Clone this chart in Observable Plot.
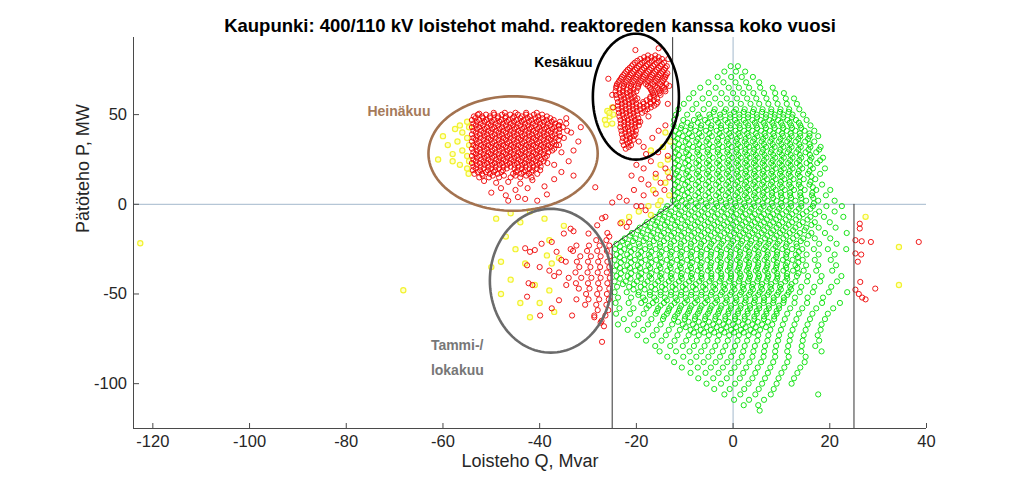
<!DOCTYPE html>
<html><head><meta charset="utf-8">
<script src="https://cdn.jsdelivr.net/npm/d3@7"></script>
<script src="https://cdn.jsdelivr.net/npm/@observablehq/plot@0.6"></script>
<style>body{margin:0;background:#fff;} #chart svg{overflow:visible;}</style>
</head><body><div id="chart"></div>
<script>
const titleText = "Kaupunki: 400/110 kV loistehot mahd. reaktoreden kanssa koko vuosi";
const xLabel = "Loisteho Q, Mvar";
const yLabel = "Pätöteho P, MW";
const xTicks = [-120, -100, -80, -60, -40, -20, 0, 20, 40];
const yTicks = [-100, -50, 0, 50];
const xDomain = [-124, 40];
const yDomain = [-125, 93];

// Green points (rows of [P, [Q values]])
const greenRows = [
[77,[-0.5,1]],
[74,[-1.8,0.6,2.5]],
[71,[-3.2,-0.4,1.8,4.1]],
[68,[-5.1,-2,0.5,2.7,5.4]],
[65,[-6.8,-3.6,-0.9,1.2,3.3,5.6,8.2]],
[62,[-8.2,-5,-2.4,0,2.1,4.2,6.4,8.7,10.5]],
[59,[-9.1,-6.3,-3.7,-1.3,0.8,2.9,4.8,6.9,8.8,10.9,12.6]],
[56,[-10.2,-7.6,-5,-2.6,-0.4,1.6,3.6,5.4,7.3,9.2,11.1,13.2]],
[53,[-11.3,-8.4,-6.1,-3.8,-1.5,0.6,2.4,4.3,6.1,7.9,9.8,11.6,13.7]],
[50,[-11.8,-9.5,-7.2,-4.9,-2.7,-0.6,1.3,3.1,4.9,6.8,8.6,10.4,12.3,14.5]],
[47,[-12.2,-10.3,-8.1,-5.8,-3.6,-1.6,0.4,2.2,4,5.7,7.5,9.3,11.2,13,15.2]],
[44,[-12.3,-10.6,-8.7,-6.6,-4.5,-2.5,-0.5,1.3,3.1,4.8,6.6,8.4,10.2,12,13.9,16]],
[41,[-11.9,-9.9,-7.8,-5.6,-3.4,-1.4,0.5,2.3,4,5.8,7.6,9.4,11.1,12.9,14.8,16.8]],
[38,[-12.3,-10.4,-8.5,-6.5,-4.4,-2.3,-0.4,1.4,3.2,5,6.7,8.5,10.3,12.1,13.9,15.8,17.6]],
[35,[-12,-9.8,-7.6,-5.5,-3.3,-1.3,0.6,2.4,4.1,5.9,7.7,9.5,11.2,13,14.9,16.8]],
[32,[-12.3,-10.4,-8.3,-6.3,-4.2,-2.2,-0.3,1.5,3.3,5,6.8,8.6,10.4,12.1,14,16,18.1]],
[29,[-11.9,-9.7,-7.4,-5.3,-3.2,-1.2,0.7,2.5,4.2,6,7.8,9.6,11.3,13.1,15,17.2]],
[26,[-12.3,-10.3,-8.4,-6.3,-4.2,-2.1,-0.2,1.6,3.4,5.1,6.9,8.7,10.5,12.3,14.1,16.2,18.6]],
[23,[-12,-9.9,-7.6,-5.4,-3.3,-1.2,0.7,2.5,4.3,6.1,7.9,9.6,11.4,13.2,15.2,17.4]],
[20,[-12.3,-10.4,-8.4,-6.3,-4.3,-2.2,-0.3,1.6,3.4,5.2,7,8.8,10.5,12.3,14.3,16.5,19]],
[17,[-11.8,-9.7,-7.5,-5.4,-3.3,-1.3,0.7,2.5,4.3,6.1,7.9,9.7,11.5,13.4,15.5,18]],
[14,[-12.3,-10.4,-8.5,-6.4,-4.3,-2.3,-0.3,1.6,3.4,5.2,7,8.8,10.6,12.5,14.6,17]],
[11,[-12,-9.9,-7.7,-5.6,-3.5,-1.4,0.5,2.4,4.2,6,7.8,9.7,11.6,13.6,15.8,18.4]],
[8,[-12.3,-10.5,-8.6,-6.5,-4.4,-2.3,-0.4,1.5,3.3,5.2,7,8.8,10.7,12.6,14.8,17.2,20.1]],
[5,[-12,-10,-7.8,-5.7,-3.5,-1.5,0.5,2.4,4.3,6.1,8,9.9,11.8,13.9,16.3,19.2]],
[2,[-12.4,-10.6,-8.7,-6.6,-4.5,-2.5,-0.5,1.4,3.3,5.2,7.1,9,10.9,12.9,15.1,17.6,21]],
[-1,[-13.6,-11.4,-9.4,-7.3,-5.3,-3.3,-1.3,0.6,2.5,4.4,6.3,8.2,10.1,12,14.1,16.5,19.3,22.5]],
[-4,[-14.9,-12.8,-10.7,-8.6,-6.5,-4.4,-2.4,-0.4,1.5,3.4,5.3,7.2,9.1,11,13,15.2,17.8,21]],
[-7,[-16.2,-14.2,-12.1,-10,-7.9,-5.9,-3.8,-1.8,0.1,2,3.9,5.8,7.7,9.6,11.6,13.7,16,18.8,22.8]],
[-10,[-17.8,-15.7,-13.6,-11.5,-9.4,-7.3,-5.2,-3.2,-1.2,0.7,2.6,4.5,6.4,8.3,10.2,12.2,14.4,16.9,20]],
[-13,[-19.3,-17.1,-15,-12.9,-10.8,-8.7,-6.6,-4.5,-2.5,-0.5,1.4,3.3,5.2,7.1,9,10.9,12.9,15.1,17.7,21.2]],
[-16,[-20.9,-18.7,-16.5,-14.3,-12.2,-10.1,-8,-5.9,-3.8,-1.8,0.2,2.1,4,5.9,7.8,9.7,11.7,13.8,16.2,19,23.5]],
[-19,[-22.4,-20.2,-18,-15.8,-13.6,-11.5,-9.4,-7.3,-5.2,-3.1,-1.1,0.9,2.8,4.7,6.6,8.5,10.4,12.4,14.5,16.9,20.1]],
[-22,[-24.1,-21.8,-19.5,-17.3,-15.1,-12.9,-10.8,-8.7,-6.6,-4.5,-2.4,-0.4,1.6,3.5,5.4,7.3,9.2,11.1,13.1,15.3,17.8,21.4]],
[-25,[-24.4,-22.5,-20.4,-18.2,-16,-13.8,-11.7,-9.6,-7.5,-5.4,-3.3,-1.3,0.7,2.6,4.5,6.4,8.3,10.2,12.2,14.3,16.7,19.6,23.4]],
[-28,[-24.1,-21.9,-19.6,-17.4,-15.2,-13,-10.9,-8.8,-6.7,-4.6,-2.5,-0.5,1.5,3.4,5.3,7.2,9.1,11,13,15.2,17.7,21]],
[-31,[-24.5,-22.5,-20.3,-18.1,-15.9,-13.7,-11.6,-9.5,-7.4,-5.3,-3.2,-1.2,0.8,2.7,4.6,6.5,8.4,10.3,12.3,14.4,16.9,20.2]],
[-34,[-24.1,-21.9,-19.7,-17.5,-15.3,-13.1,-11,-8.9,-6.8,-4.7,-2.6,-0.6,1.4,3.3,5.2,7.1,9,10.9,12.9,15.1,17.6,21.3]],
[-37,[-24.5,-22.4,-20.2,-18,-15.8,-13.6,-11.5,-9.4,-7.3,-5.2,-3.1,-1.1,0.9,2.8,4.7,6.6,8.5,10.4,12.4,14.6,17.2,20.5]],
[-40,[-24.1,-21.8,-19.5,-17.3,-15.1,-12.9,-10.8,-8.7,-6.6,-4.5,-2.4,-0.4,1.6,3.5,5.4,7.3,9.2,11.1,13.2,15.5,18.3,22.4]],
[-43,[-24.5,-22.2,-19.9,-17.7,-15.5,-13.3,-11.2,-9.1,-7,-4.9,-2.8,-0.8,1.2,3.1,5,6.9,8.8,10.8,12.9,15.3,18,21.5]],
[-46,[-24,-21.5,-19.1,-16.9,-14.7,-12.5,-10.4,-8.3,-6.2,-4.1,-2,0,2,3.9,5.8,7.7,9.7,11.8,14.1,16.8,20.3]],
[-49,[-24.5,-22,-19.5,-17.2,-15,-12.8,-10.7,-8.6,-6.5,-4.4,-2.3,-0.3,1.7,3.6,5.5,7.4,9.4,11.5,13.8,16.5,19.8,23.6]],
[-52,[-23.8,-21.1,-18.6,-16.3,-14.1,-11.9,-9.8,-7.7,-5.6,-3.5,-1.4,0.6,2.6,4.5,6.4,8.4,10.5,12.8,15.4,18.6]],
[-55,[-24.3,-21.6,-19,-16.6,-14.3,-12.1,-10,-7.9,-5.8,-3.7,-1.6,0.4,2.4,4.3,6.3,8.3,10.4,12.7,15.3,18.4,22.1]],
[-58,[-23.5,-20.6,-17.9,-15.5,-13.2,-11,-8.9,-6.8,-4.7,-2.6,-0.5,1.5,3.5,5.4,7.4,9.5,11.8,14.3,17.2,20.7]],
[-61,[-24.2,-21.3,-18.5,-16,-13.7,-11.5,-9.4,-7.3,-5.2,-3.1,-1,1,3,4.9,6.9,9,11.2,13.6,16.4,19.6]],
[-64,[-22.6,-19.6,-16.9,-14.5,-12.2,-10,-7.9,-5.8,-3.7,-1.6,0.4,2.4,4.4,6.4,8.5,10.7,13.1,15.9,19]],
[-67,[-23.8,-20.5,-17.6,-15,-12.6,-10.4,-8.3,-6.2,-4.1,-2,0,2,4,6,8.1,10.3,12.7,15.4,18.3]],
[-70,[-21.8,-18.6,-15.8,-13.3,-11,-8.8,-6.7,-4.6,-2.5,-0.4,1.6,3.6,5.6,7.7,9.9,12.3,15,18.1]],
[-73,[-19.8,-16.6,-13.9,-11.5,-9.2,-7.1,-5,-2.9,-0.8,1.2,3.2,5.2,7.3,9.5,11.9,14.6,17.5]],
[-76,[-18,-14.8,-12.1,-9.7,-7.5,-5.3,-3.2,-1.1,0.9,2.9,5,7.1,9.3,11.7,14.4,17.8]],
[-79,[-16.1,-13,-10.4,-8.1,-5.9,-3.7,-1.6,0.4,2.4,4.5,6.6,8.9,11.4,14.2,17]],
[-82,[-15.2,-11.8,-9,-6.6,-4.3,-2.1,0,2.1,4.2,6.4,8.7,11.2,14.1,18.3]],
[-85,[-13.6,-10.3,-7.6,-5.1,-2.7,-0.4,1.8,4,6.3,8.7,11.5,15]],
[-88,[-12.2,-8.8,-6.1,-3.6,-1.2,1.1,3.4,5.8,8.3,11.2,14.8]],
[-91,[-10.6,-7.3,-4.6,-2.1,0.3,2.7,5.1,7.7,10.6,13.9]],
[-94,[-8.8,-5.7,-3,-0.4,2.1,4.6,7.2,10,13.3]],
[-97,[-7.2,-4.1,-1.3,1.4,4,6.6,9.4,12.6]],
[-100,[-5.5,-2.5,0.4,3.2,6,9,12.1]],
[-103,[-3.9,-0.7,2.3,5.3,8.4]],
[-106,[-1.8,1.5,4.6,7.8,17.6]],
[-109,[0.2,3.3,6.4]],
[-112,[2.2,5.2]],
[-115,[5.5]],
// denser core
[51.5,[-4,-1.8,0.2,2.2,4.1,6,7.9,9.7,11.5]],
[48.5,[-6.9,-4.7,-2.6,-0.6,1.3,3.1,5,6.8,8.6,10.4,12.2]],
[45.5,[-9.4,-7.3,-5.2,-3.1,-1.1,0.8,2.6,4.5,6.3,8.1,9.9,11.7,13.6]],
[42.5,[-10.8,-8.8,-6.7,-4.6,-2.5,-0.5,1.4,3.2,5,6.8,8.6,10.4,12.2,14.1]],
[39.5,[-11.2,-9.1,-7,-4.9,-2.8,-0.8,1.1,2.9,4.7,6.5,8.3,10.1,11.9,13.8,15.8]],
[36.5,[-11.5,-9.4,-7.3,-5.2,-3.1,-1.1,0.8,2.6,4.4,6.2,8,9.8,11.6,13.5,15.5]],
[33.5,[-11.2,-9.1,-7,-4.9,-2.9,-0.9,1,2.8,4.6,6.4,8.2,10,11.8,13.7,15.8]],
[30.5,[-11.5,-9.4,-7.3,-5.2,-3.1,-1.1,0.8,2.6,4.4,6.2,8,9.8,11.6,13.5,15.6,17.8]],
[27.5,[-11.2,-9.1,-7,-4.9,-2.8,-0.8,1.1,2.9,4.7,6.5,8.3,10.1,11.9,13.8,15.9]],
[24.5,[-11.5,-9.3,-7.1,-5,-2.9,-0.9,1,2.8,4.6,6.4,8.2,10,11.8,13.7,15.9,18]],
[21.5,[-11.2,-9.1,-7,-4.9,-2.8,-0.8,1.1,2.9,4.7,6.5,8.3,10.1,11.9,13.8,16]],
[18.5,[-11.5,-9.4,-7.2,-5.1,-3,-1,0.9,2.7,4.5,6.3,8.1,9.9,11.7,13.6,15.8]],
[15.5,[-11.2,-9.1,-7,-4.9,-2.8,-0.8,1.1,2.9,4.7,6.5,8.3,10.1,11.9,13.8,16.2]],
[12.5,[-11.5,-9.4,-7.2,-5.1,-3,-1,0.9,2.7,4.5,6.3,8.1,9.9,11.7,13.7,16]],
[9.5,[-11.2,-9.1,-7,-4.9,-2.8,-0.8,1.1,2.9,4.7,6.5,8.3,10.1,12,14,16.5]],
[6.5,[-11.5,-9.4,-7.2,-5.1,-3,-1,0.9,2.7,4.5,6.3,8.1,9.9,11.8,13.9,16.4]],
[3.5,[-11.2,-9.1,-7,-4.9,-2.8,-0.8,1.1,2.9,4.7,6.5,8.3,10.1,12,14.1,16.6]],
[0.5,[-11.8,-9.8,-7.7,-5.6,-3.5,-1.5,0.4,2.3,4.2,6.1,8,9.9,11.9,14.1,16.7]],
[-2.5,[-13.9,-11.9,-9.9,-7.9,-5.9,-3.9,-1.9,0,1.9,3.8,5.7,7.6,9.5,11.5,13.6,16]],
[-5.5,[-15.2,-13.2,-11.2,-9.2,-7.2,-5.2,-3.2,-1.2,0.7,2.6,4.5,6.4,8.3,10.2,12.2,14.4,17]],
[-8.5,[-16.6,-14.6,-12.6,-10.6,-8.6,-6.6,-4.6,-2.6,-0.6,1.3,3.2,5.1,7,8.9,10.9,13,15.4]],
[-11.5,[-18.2,-16.1,-14.1,-12,-9.9,-7.9,-5.9,-3.9,-1.9,0,1.9,3.8,5.7,7.6,9.5,11.5,13.7,16.2]],
[-14.5,[-19.7,-17.6,-15.5,-13.4,-11.3,-9.2,-7.2,-5.2,-3.2,-1.2,0.7,2.6,4.5,6.4,8.3,10.3,12.4,14.8]],
[-17.5,[-21.3,-19.1,-17,-14.9,-12.8,-10.7,-8.6,-6.6,-4.6,-2.6,-0.6,1.4,3.3,5.2,7.1,9,11,13.2,15.6]],
[-20.5,[-22.9,-20.7,-18.5,-16.4,-14.3,-12.2,-10.1,-8,-6,-4,-2,0,1.9,3.8,5.7,7.6,9.6,11.7,14]],
[-23.5,[-23.4,-21.4,-19.3,-17.2,-15.1,-13,-10.9,-8.8,-6.8,-4.8,-2.8,-0.8,1.1,3,4.9,6.8,8.8,10.9,13.2]],
[-26.5,[-23.2,-21.1,-19,-16.9,-14.8,-12.7,-10.6,-8.5,-6.5,-4.5,-2.5,-0.5,1.4,3.3,5.2,7.1,9.1,11.2,13.6]],
[-29.5,[-23.4,-21.3,-19.2,-17.1,-15,-12.9,-10.8,-8.7,-6.7,-4.7,-2.7,-0.7,1.2,3.1,5,6.9,8.9,11,13.4]],
[-32.5,[-23.2,-21.1,-19,-16.9,-14.8,-12.7,-10.6,-8.5,-6.5,-4.5,-2.5,-0.5,1.4,3.3,5.2,7.1,9.1,11.2,13.5]],
[-35.5,[-23.4,-21.3,-19.2,-17.1,-15,-12.9,-10.8,-8.7,-6.7,-4.7,-2.7,-0.7,1.2,3.1,5,6.9,8.9,11,13.3]],
[-38.5,[-23.2,-21.1,-19,-16.9,-14.8,-12.7,-10.6,-8.5,-6.5,-4.5,-2.5,-0.5,1.4,3.3,5.2,7.1,9.1,11.2,13.5]],
[-41.5,[-23.4,-21.2,-19,-16.9,-14.8,-12.7,-10.6,-8.5,-6.5,-4.5,-2.5,-0.5,1.4,3.3,5.2,7.1,9.1,11.2]],
[-44.5,[-22.8,-20.5,-18.3,-16.1,-14,-11.9,-9.8,-7.7,-5.7,-3.7,-1.7,0.3,2.2,4.1,6,7.9,9.9,12.1]],
[-47.5,[-20.6,-18.3,-16.1,-14,-11.9,-9.8,-7.7,-5.7,-3.7,-1.7,0.3,2.2,4.1,6,7.9,9.9,12]],
[-50.5,[-19.6,-17.2,-15,-12.9,-10.8,-8.7,-6.6,-4.6,-2.6,-0.6,1.4,3.3,5.2,7.1,9.1,11.2]],
[-53.5,[-18.2,-15.9,-13.7,-11.6,-9.5,-7.4,-5.3,-3.3,-1.3,0.7,2.6,4.5,6.4,8.4,10.5]],
[-56.5,[-17.4,-15,-12.8,-10.7,-8.6,-6.5,-4.4,-2.4,-0.4,1.6,3.5,5.4,7.4,9.5]],
[-59.5,[-15.7,-13.4,-11.2,-9.1,-7,-4.9,-2.9,-0.9,1.1,3,4.9,6.9,9]],
[-62.5,[-14.3,-12,-9.9,-7.8,-5.7,-3.6,-1.6,0.4,2.4,4.4,6.4,8.5]],
[-65.5,[-11.4,-9.2,-7.1,-5,-2.9,-0.9,1.1,3.1,5.1,7.2]],
[-68.5,[-9.8,-7.6,-5.5,-3.4,-1.4,0.6,2.6,4.7,6.8]],
[-71.5,[-8.1,-6,-3.9,-1.8,0.2,2.2,4.3]]
];

// Red: July (Heinäkuu) cluster rows
const julyRows = [
[51,[-49.5,-47.2,-45,-42.8,-40.6]],
[50,[-52.8,-51.1,-49.4,-47.8,-46.1,-44.5,-42.8,-41.2,-39.5]],
[49,[-53.6,-51.9,-50.3,-48.6,-47,-45.3,-43.7,-42,-40.3,-38.5]],
[48,[-53.3,-51.7,-50.2,-48.7,-47.1,-45.6,-44,-42.5,-40.9,-39.4,-37.8]],
[47,[-54,-52.5,-51,-49.4,-47.9,-46.4,-44.8,-43.3,-41.7,-40.2,-38.6,-37.1]],
[46,[-53,-51.4,-49.9,-48.3,-46.8,-45.3,-43.7,-42.2,-40.6,-39.1,-37.5,-35.8]],
[45,[-53.7,-52.2,-50.6,-49.1,-47.6,-46,-44.5,-43,-41.4,-39.9,-38.3,-36.8,-34.5]],
[44,[-53.2,-51.7,-50.1,-48.6,-47,-45.5,-44,-42.4,-40.9,-39.3,-37.8,-36.1]],
[43,[-54,-52.5,-50.9,-49.4,-47.8,-46.3,-44.8,-43.2,-41.7,-40.1,-38.6,-37,-35.2]],
[42,[-53,-51.4,-49.8,-48.3,-46.7,-45.2,-43.6,-42.1,-40.5,-39,-37.4,-35.9]],
[41,[-53.7,-52.1,-50.6,-49,-47.5,-46,-44.4,-42.9,-41.3,-39.8,-38.2,-36.7,-34.3]],
[40,[-53.2,-51.6,-50.1,-48.5,-47,-45.4,-43.9,-42.3,-40.8,-39.2,-37.7,-36]],
[39,[-54,-52.4,-50.9,-49.3,-47.8,-46.2,-44.7,-43.1,-41.6,-40,-38.5,-36.9]],
[38,[-53,-51.4,-49.8,-48.3,-46.7,-45.2,-43.6,-42.1,-40.5,-39,-37.4,-35.8]],
[37,[-53.7,-52.2,-50.6,-49.1,-47.5,-46,-44.4,-42.9,-41.3,-39.8,-38.2,-36.7,-35]],
[36,[-53.2,-51.6,-50.1,-48.5,-47,-45.4,-43.9,-42.3,-40.8,-39.2,-37.7,-36.1]],
[35,[-54,-52.5,-50.9,-49.4,-47.8,-46.3,-44.7,-43.2,-41.6,-40.1,-38.5,-37]],
[34,[-53,-51.4,-49.8,-48.3,-46.7,-45.2,-43.6,-42.1,-40.5,-39,-37.4]],
[33,[-53.7,-52.1,-50.6,-49,-47.5,-45.9,-44.4,-42.8,-41.3,-39.7,-38.2,-36.6]],
[32,[-53.2,-51.6,-50.1,-48.5,-47,-45.4,-43.9,-42.3,-40.8,-39.2,-37.7]],
[31,[-54,-52.4,-50.9,-49.3,-47.8,-46.2,-44.7,-43.1,-41.6,-40,-38.5,-37]],
[30,[-53,-51.4,-49.8,-48.3,-46.7,-45.2,-43.6,-42.1,-40.5,-39,-37.4]],
[29,[-53.7,-52.2,-50.6,-49.1,-47.5,-46,-44.4,-42.9,-41.3,-39.8,-38.2]],
[28,[-53.2,-51.6,-50.1,-48.5,-47,-45.4,-43.9,-42.3,-40.8,-39.2]],
[27,[-54,-52.5,-50.9,-49.4,-47.8,-46.3,-44.7,-43.2,-41.6,-40.1,-38.5]],
[26,[-53,-51.4,-49.8,-48.3,-46.7,-45.2,-43.6,-42.1,-40.5,-38.9]],
[25,[-53.7,-52.1,-50.6,-49,-47.5,-45.9,-44.4,-42.8,-41.3,-39.7]],
[24,[-53.2,-51.6,-50.1,-48.5,-47,-45.4,-43.9,-42.3,-40.8,-39.2]],
[23,[-54,-52.4,-50.9,-49.3,-47.8,-46.2,-44.7,-43.1,-41.6,-40,-38.4]],
[22,[-53,-51.4,-49.8,-48.3,-46.7,-45.2,-43.6,-42.1,-40.5]],
[21,[-53.7,-52.2,-50.6,-49.1,-47.5,-46,-44.4,-42.9,-41.3,-39.8]],
[20,[-53.2,-51.6,-50,-48.4,-46.8,-45.2,-43.7,-42.1,-40.6]],
[19,[-53.8,-52.3,-50.7,-49.2,-47.6,-44.6,-43,-41.5,-39.9]],
[18,[-52.8,-51.1,-49.5,-47.9,-44.9,-43.3,-41.7]],
[17,[-53.5,-51.9,-50.3,-48.7,-45.5,-43.8,-42.2,-40.5]],
[16,[-51.8,-49.7,-47.4,-45,-42.8]],
[15,[-52.5,-50.5,-48.4,-46,-44,-41.7]]
];

// Red: June (Kesäkuu) cluster rows
const juneRows = [
[83,[-17.6,-16.1]],
[82,[-18.4,-16.9,-15.4]],
[81,[-19.2,-17.7,-16.2,-14.7]],
[80,[-19.8,-18.3,-16.8,-15.3]],
[79,[-20.3,-18.8,-17.3,-15.8,-14.3]],
[78,[-20.7,-19.2,-17.7,-16.2,-14.7]],
[77,[-21,-19.5,-18,-16.5,-15,-13.7]],
[76,[-21.4,-19.9,-18.4,-16.9,-15.4,-14]],
[75,[-21.8,-20.3,-18.8,-17.3,-15.8,-14.3]],
[74,[-22.1,-20.6,-19.1,-17.6,-16.1,-14.6]],
[73,[-22.4,-20.9,-19.4,-17.9,-16.4,-14.9,-13.6]],
[72,[-22.7,-21.2,-19.7,-18.2,-16.7,-15.2,-13.9]],
[71,[-23,-21.5,-20,-18.5,-17,-15.5,-14]],
[70,[-23.2,-21.7,-20.2,-18.7,-17.2,-15.7,-14.2]],
[69,[-23.5,-22,-20.5,-19,-17.5,-16,-14.5]],
[68,[-23.7,-22.2,-20.7,-19.2,-17.7,-16.2,-14.7]],
[67,[-24,-22.5,-21,-19.5,-18,-16.5,-15,-13.8]],
[66,[-24.1,-22.6,-21.1,-19.6,-17.6,-16.1,-14.6]],
[65,[-24.2,-22.7,-21.2,-19.7,-17.2,-15.7,-14.3]],
[64,[-23.5,-22,-20.6,-17,-15.5,-14.1]],
[63,[-24.3,-22.8,-21.3,-20,-16.8,-15.3,-14]],
[62,[-23.5,-22,-20.6,-16.6,-15.2]],
[61,[-24.2,-22.7,-21.2,-16.5,-15]],
[60,[-23.2,-21.8,-20.4,-17.1,-16.3]],
[59,[-24,-22.5,-21,-19.8,-17.2,-15.7]],
[58,[-23.1,-21.6,-20.2,-17.9,-16.4]],
[57,[-23.8,-22.3,-20.8,-18.6,-17.1,-15.6]],
[56,[-23,-21.5,-20,-18.5,-17,-15.8]],
[55,[-23.8,-22.3,-20.8,-19.3,-17.8,-16.3]],
[54,[-23,-21.5,-20,-18.5,-17]],
[53,[-23.7,-22.2,-20.7,-19.2,-17.7]],
[52,[-22.9,-21.4,-19.9,-18.2]],
[51,[-23.6,-22.1,-20.6,-18.8]],
[50,[-22.8,-21.3,-19.8]],
[49,[-23.5,-22,-20.5,-17.5]],
[48,[-22.5,-21,-19.6]],
[47,[-23.3,-21.8,-20.3]],
[46,[-22.5,-21,-19.6]],
[45,[-23.2,-21.7,-20.2]],
[44,[-22.5,-21,-19.5]],
[43,[-23.3,-21.8,-20.3]],
[42,[-22.3,-20.8]],
[41,[-23.1,-21.6,-20.1]],
[40,[-22.3,-20.8]],
[39,[-23,-21.5,-20.2]],
[38,[-22,-20.5]],
[37,[-22.8,-21.3]],
[36,[-22.1,-20.6]],
[35,[-22.9,-21.4]],
[34,[-21.8]],
[33,[-22.6,-21.1]],
[32,[-21.6]],
[31,[-22.2]]
];

// Red: January/October (Tammi-/lokakuu) cluster rows
const janOctRows = [
[-20,[-26.2,-28.3]],
[-23,[-25.6,-27.6,-29.8,-32.4]],
[-26,[-26.1,-28.1,-30.2,-33.1]],
[-29,[-25.5,-27.4,-29.4,-31.6]],
[-32,[-26,-27.9,-30,-32.3,-34.6]],
[-35,[-25.6,-27.5,-29.5,-31.8]],
[-38,[-26.1,-28,-30.1,-32.6]],
[-41,[-25.5,-27.4,-29.3,-31.4,-34]],
[-44,[-26,-27.9,-30,-32.5]],
[-47,[-25.6,-27.6,-29.7,-31.9]],
[-50,[-26.1,-28.1,-30.4]],
[-53,[-25.7,-27.7,-29.9,-32.4]],
[-56,[-26.2,-28.3,-30.6]],
[-59,[-25.8,-28]],
[-62,[-26.4,-28.7]],
[-65,[-27.2]]
];

// Red: scattered points [Q, P]
const redScatter = [
[-20.2,86],[-15.4,87],[-13.4,81],[-25,61],[-24.8,54],[-16.7,37],[-15.4,41],[-14,44],[-19.2,46],[-18.5,32],[-13.2,66],[-25.8,70],[-13.5,56],[-19.5,35],
[-20,22],[-18.5,20],[-17,24],[-16,17],[-19,14],[-17.5,11],[-15,12],[-14,20],[-13.5,27],[-15.5,29],[-18,28],[-21,16],[-20.5,8],[-18.5,5],[-16,6],[-22,2],[-20,-1],[-23.5,4],[-25,1],[-14.2,8],[-13.2,15],[-28.5,9.5],[-26.4,-7],
[-27.1,-7.8],[-23.3,-10.6],[-22,-12.6],[-21.5,-10],[-26,-16],[-25.6,-18],[-28.1,-11.7],[-18.1,-3.3],[-19,-1],[-29.9,-16.3],[-33.6,-13.6],[-35,-16.3],[-33,-15],
[-43,-24.5],[-42,-26.5],[-41,-25.5],[-39.6,-22],[-37.5,-21],[-36.5,-26.5],[-42.6,-34],[-40,-35],[-38,-37],[-37,-40],[-36,-38],[-33.6,-25],[-42.3,-44],[-41.5,-45],[-42.6,-51.5],[-39.9,-62],[-37.5,-58],[-33.3,-62],[-36,-53.5],[-27.4,-66],[-26.7,-68],[-27.1,-76.7],[-28.7,-63],[-34.5,-45],[-35.5,-31],
[-51.5,13],[-49,12],[-46.5,12.5],[-44,11.5],[-41.5,13.5],[-48,9],[-45,8],[-42.5,9],[-50,6.5],[-47,5],[-44.5,4],[-46.5,2],[-43,3],[-39,10],[-37,14],[-35.5,18],[-34,24],[-33,30],[-32,35],[-33.5,40],[-31.5,43],[-34.5,48],[-36,44],[-35.5,29],[-37,22],[-36,33],[-52.5,50.5],[-33,16],[-38.5,5.5],[-40.5,2],
[26.2,-10.8],[26.2,-13.5],[25.3,-20],[26.6,-20.6],[28.5,-21],[38.4,-21],[25.3,-27.4],[26.5,-28],[25.8,-32],[26.3,-43.3],[25.3,-47.6],[29.4,-47],[26,-50],[26.7,-52],[27.4,-53]
];

// Yellow points [Q, P]
const yellowPoints = [
[-55,46],[-54.6,43],[-56,40],[-55,37],[-57,35],[-54.6,33],[-56,30],[-58,28],[-55,27],[-54.6,24],[-56.5,22],[-55,20],[-57.5,42],[-59,33],[-60,38],[-61,25],[-54.7,17],[-56.5,44],[-58,24],
[-26,52],[-25.5,49],[-26.5,47],[-25,45],[-25,54],[-24.8,50],[-26.2,44.5],[-25.6,51],
[-17,30],[-14.5,32],[-13.5,25],[-15,22],[-13.5,18],[-16,15],[-14,12],[-13.2,5],[-16.5,8],[-15,2],[-17.5,-1],[-19.5,-4],[-21.5,-7],[-23,-10],[-13,35],[-14,40],[-17,-6],[-15.5,-0.4],
[-49,-8],[-46,-5],[-44,-10],[-42,-4],[-39,-8],[-47,-18],[-45,-25],[-43,-33],[-48,-32],[-46,-42],[-41,-45],[-38,-48],[-44,-55],[-40,-55],[-37,-60],[-42,-63],[-36,-30],[-38,-20],[-35,-12],[-50,-35],[-48,-50],[-38.5,-28.5],[-37.5,-33],
[-122.6,-21.7],[-68.2,-47.9],[27.4,-7],[34.3,-23.8],[34.3,-45]
];

// Limit lines [Q, P]
const limitLeft = [[-25,-125],[-25,-23],[-12.5,0],[-12.5,93]];
const limitRight = [[25,-125],[25,0]];

// Annotation ellipses: centre Q, centre P, radius Q, radius P
const ellipseNames = ["Kesäkuu", "Heinäkuu", "Tammi-/lokakuu"];
const ellipseCx = [-20.1, -45.5, -37.7];
const ellipseCy = [60.0, 28.3, -42.6];
const ellipseRx = [8.9, 17.5, 12.6];
const ellipseRy = [35.1, 31.9, 40.1];
const ellipseColors = ["#000000", "#a3724f", "#6b6b6b"];

// Annotation labels
const noteTexts = ["Kesäkuu", "Heinäkuu", "Tammi-/", "lokakuu"];
const noteX = [-35.1, -69.1, -62.5, -62.5];
const noteY = [79.3, 52.0, -78.6, -92.5];
const noteColors = ["#000000", "#a57a5a", "#777777", "#777777"];
const noteAnchors = ["middle", "middle", "start", "start"];

const flatten = rows => rows.flatMap(([y, xs]) => xs.map(x => ({x, y})));
const green = flatten(greenRows);
const red = [...flatten(julyRows), ...flatten(juneRows), ...flatten(janOctRows), ...redScatter.map(([x, y]) => ({x, y}))];
const yellow = yellowPoints.map(([x, y]) => ({x, y}));

const ellipseMarks = ellipseNames.map((name, i) => {
  const pts = d3.range(0, 121).map(k => {
    const t = (k / 120) * 2 * Math.PI;
    return {x: ellipseCx[i] + ellipseRx[i] * Math.cos(t), y: ellipseCy[i] + ellipseRy[i] * Math.sin(t)};
  });
  return Plot.line(pts, {x: "x", y: "y", stroke: ellipseColors[i], strokeWidth: 2.6});
});

const notes = noteTexts.map((t, i) => ({t, x: noteX[i], y: noteY[i], c: noteColors[i], a: noteAnchors[i]}));

const W = 1024, H = 482;
const mL = 133, mR = 98, mT = 37, mB = 54;
const frameW = W - mL - mR, frameH = H - mT - mB;
const font = "'Liberation Sans', Arial, Helvetica, sans-serif";

const chart = Plot.plot({
  width: W, height: H,
  marginLeft: mL, marginRight: mR, marginTop: mT, marginBottom: mB,
  x: {domain: xDomain, axis: null},
  y: {domain: yDomain, axis: null},
  style: {fontFamily: font, color: "#262626", background: "#ffffff"},
  marks: [
    Plot.ruleY([0], {stroke: "#a3b8cc", strokeWidth: 1}),
    Plot.ruleX([0], {stroke: "#a3b8cc", strokeWidth: 1}),
    Plot.dot(green, {x: "x", y: "y", r: 2.6, stroke: "#00e000", strokeWidth: 0.9}),
    Plot.dot(yellow, {x: "x", y: "y", r: 2.6, stroke: "#f2f230", fill: "#ffffa8", fillOpacity: 0.6, strokeWidth: 1.2}),
    Plot.dot(red, {x: "x", y: "y", r: 2.6, stroke: "#ee0000", strokeWidth: 0.9}),
    Plot.line(limitLeft, {x: d => d[0], y: d => d[1], stroke: "#333333", strokeWidth: 1}),
    Plot.line(limitRight, {x: d => d[0], y: d => d[1], stroke: "#333333", strokeWidth: 1}),
    ...ellipseMarks,
    Plot.text(notes, {x: "x", y: "y", text: "t", fill: "c", textAnchor: "start", fontSize: 14, fontWeight: "bold", filter: d => d.a === "start"}),
    Plot.text(notes, {x: "x", y: "y", text: "t", fill: "c", textAnchor: "middle", fontSize: 14, fontWeight: "bold", filter: d => d.a === "middle"}),
    Plot.ruleX([xDomain[0]], {stroke: "#4a4a4a", strokeWidth: 1}),
    Plot.ruleY([yDomain[0]], {stroke: "#4a4a4a", strokeWidth: 1}),
    Plot.tickX(xTicks, {x: d => d, insetTop: frameH - 5, stroke: "#4a4a4a"}),
    Plot.tickY(yTicks, {y: d => d, insetRight: frameW - 6, stroke: "#4a4a4a"}),
    Plot.text(xTicks, {x: d => d, text: d => String(d), frameAnchor: "bottom", dy: 18, fontSize: 16.5, fill: "#262626"}),
    Plot.text(yTicks, {y: d => d, text: d => String(d), frameAnchor: "left", dx: -6.5, textAnchor: "end", fontSize: 16.5, fill: "#262626"}),
    Plot.text([titleText], {frameAnchor: "top", dy: -19, fontSize: 18.5, fontWeight: "bold", fill: "#000000"}),
    Plot.text([xLabel], {frameAnchor: "bottom", dy: 38, fontSize: 18, fill: "#262626"}),
    Plot.text([yLabel], {frameAnchor: "left", dx: -50, rotate: -90, fontSize: 18, fill: "#262626"})
  ]
});
document.getElementById("chart").appendChild(chart);
</script>
</body></html>
